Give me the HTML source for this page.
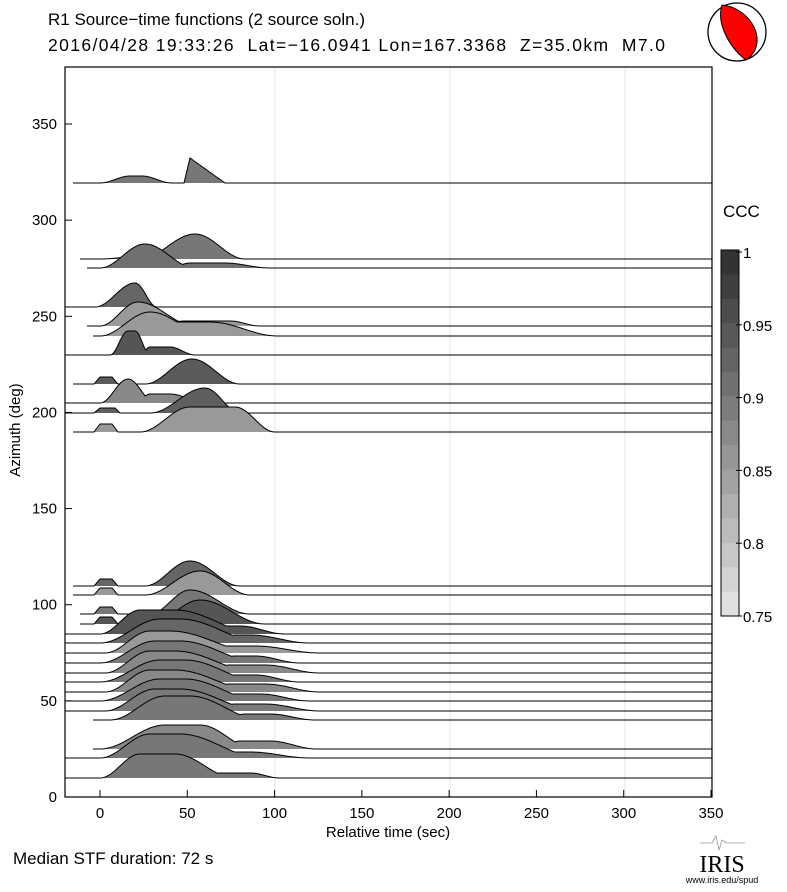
<!DOCTYPE html>
<html><head><meta charset="utf-8"><style>
body{margin:0;background:#fff;}
svg text{font-family:"Liberation Sans",sans-serif;}
</style></head><body>
<svg id="s" width="787" height="887" xmlns="http://www.w3.org/2000/svg">
<rect width="787" height="887" fill="#fff"/>
<text x="48" y="25" font-size="17">R1 Source−time functions (2 source soln.)</text>
<text x="48" y="51" font-size="17.5" textLength="617" lengthAdjust="spacing" style="white-space:pre">2016/04/28 19:33:26  Lat=−16.0941 Lon=167.3368  Z=35.0km  M7.0</text>
<circle cx="737" cy="32" r="29" fill="#fff" stroke="#000" stroke-width="1.3"/>
<path d="M722,5 C752,8 770,44 746,60 C730,48 716,24 722,5 Z" fill="#f00" stroke="#000" stroke-width="1"/>
<g stroke="#e4e4e4" stroke-width="1">
<line x1="275" y1="67" x2="275" y2="797"/><line x1="450" y1="67" x2="450" y2="797"/><line x1="625" y1="67" x2="625" y2="797"/>
</g>
<g id="tr"></g>
<rect x="65" y="67" width="647" height="730" fill="none" stroke="#000" stroke-width="1.2"/>
<g id="ax" font-size="15"></g>
<text x="388" y="837" font-size="15" text-anchor="middle">Relative time (sec)</text>
<text transform="translate(20,430) rotate(-90)" font-size="15" text-anchor="middle">Azimuth (deg)</text>
<text x="723" y="217" font-size="17">CCC</text>
<g id="cb"></g>
<text x="13" y="864" font-size="17">Median STF duration: 72 s</text>
<path d="M700,843 L712,843 L716,836 L719,850 L722,840 L726,843 L745,843" stroke="#999" fill="none" stroke-width="0.8"/>
<text x="722" y="872" font-size="24" text-anchor="middle" style="font-family:'Liberation Serif',serif">IRIS</text>
<text x="722" y="883" font-size="9" text-anchor="middle">www.iris.edu/spud</text>
</svg>
<script>
(function(){
const NS="http://www.w3.org/2000/svg";
function el(p,t,a,txt){const e=document.createElementNS(NS,t);for(const k in a)e.setAttribute(k,a[k]);if(txt!==undefined)e.textContent=txt;p.appendChild(e);return e;}
const cs_=u=>(1-Math.cos(Math.PI*u))/2;
const sp=(a,b,c,d,h)=>x=>x<=a||x>=d?0:(x<b?h*cs_((x-a)/(b-a)):(x<=c?h:h*cs_((d-x)/(d-c))));
const tri=(a,p,b,h)=>x=>x<=a||x>=b?0:(x<p?h*(x-a)/(p-a):h*(b-x)/(b-p));
const trap=(a,b,c,d,h)=>x=>x<=a||x>=d?0:(x<b?h*(x-a)/(b-a):(x<=c?h:h*(d-x)/(d-c)));
const T=[
[183,73,"#777",[sp(100,130,142,172,7),tri(184,190,225,25)]],
[259,80,"#777",[sp(100,150,150,160,4),sp(140,195,195,245,25)]],
[268,87,"#707070",[sp(100,145,145,195,24),sp(170,190,225,270,5)]],
[307,65,"#666",[sp(95,135,135,157,24)]],
[326,87,"#999",[sp(100,138,138,195,24),sp(150,185,230,260,5)]],
[336,93,"#999",[sp(100,150,150,210,24),sp(140,160,210,278,14)]],
[355,65,"#555",[sp(110,128,135,150,24),sp(140,150,170,195,8)]],
[384,73,"#5a5a5a",[trap(94,100,112,118,7),sp(145,192,192,240,25)]],
[403,65,"#888",[sp(100,128,128,155,24),sp(135,150,170,205,9)]],
[413,65,"#5f5f5f",[trap(94,100,115,120,5),sp(150,205,205,240,25)]],
[432,73,"#999",[trap(94,100,112,118,8),sp(140,190,235,275,25)]],
[586,73,"#666",[trap(94,100,112,118,7),sp(145,190,190,240,25)]],
[595,73,"#999",[trap(94,100,112,118,7),sp(145,200,200,250,24)]],
[614,80,"#777",[trap(94,100,112,118,7),sp(150,190,190,250,24)]],
[624,80,"#555",[trap(94,100,112,118,7),sp(150,200,200,265,24)]],
[634,65,"#555",[sp(100,140,175,260,24),sp(200,220,240,285,8)]],
[643,65,"#666",[sp(100,160,180,265,24),sp(220,235,250,310,8)]],
[653,65,"#999",[sp(105,150,170,260,22),sp(200,225,255,320,7)]],
[663,65,"#777",[sp(100,155,180,262,22),sp(210,235,255,300,7)]],
[673,65,"#888",[sp(105,150,175,260,22),sp(200,230,265,320,8)]],
[682,65,"#777",[sp(100,160,185,262,22),sp(210,235,255,300,7)]],
[692,65,"#888",[sp(105,150,175,260,22),sp(200,230,265,320,8)]],
[701,65,"#777",[sp(100,160,185,262,22),sp(210,235,260,310,7)]],
[711,65,"#7a7a7a",[sp(105,155,180,262,22),sp(205,235,265,320,7)]],
[720,93,"#777",[sp(110,165,190,262,24),sp(220,245,270,315,6)]],
[749,93,"#888",[sp(100,165,200,255,24),sp(220,240,270,317,8)]],
[758,65,"#777",[sp(100,150,180,262,24),sp(220,235,250,310,6)]],
[778,65,"#777",[sp(100,140,175,235,24),sp(200,220,250,280,5)]]
];
const tr=document.getElementById("tr");
for(const [y,x0,c,cs] of T){
 let pts="";
 for(let x=x0;x<=712;x+=1){let v=0;for(const f of cs)v=Math.max(v,f(x));pts+=" L"+x+","+(y-v).toFixed(1);}
 el(tr,"path",{d:"M"+x0+","+y+pts+" L712,"+y+" Z",fill:c,stroke:"none"});
 el(tr,"path",{d:"M"+x0+","+y+pts,fill:"none",stroke:"#000","stroke-width":"1"});
}
const ax=document.getElementById("ax");
for(let v=0;v<=350;v+=50){
 const y=797-v*96.14/50;
 el(ax,"line",{x1:65,y1:y,x2:72,y2:y,stroke:"#000"});
 el(ax,"text",{x:57,y:y+5,"text-anchor":"end"},v);
 const x=100+v*1.7457;
 el(ax,"line",{x1:x,y1:797,x2:x,y2:790,stroke:"#000"});
 el(ax,"text",{x:x,y:818,"text-anchor":"middle"},v);
}
const cb=document.getElementById("cb");
const n=15,t0=250,b0=616;
for(let i=0;i<n;i++){
 const t=i/(n-1);const v=Math.round(0x33+t*(0xe0-0x33));const h=v.toString(16);
 el(cb,"rect",{x:721,y:t0+(b0-t0)*i/n,width:18,height:(b0-t0)/n+0.5,fill:"#"+h+h+h});
}
el(cb,"rect",{x:721,y:t0,width:18,height:b0-t0,fill:"none",stroke:"#000"});
[[1,"1"],[0.95,"0.95"],[0.9,"0.9"],[0.85,"0.85"],[0.8,"0.8"],[0.75,"0.75"]].forEach(function(a){
 const y=t0+2+(1-a[0])/0.25*(b0-t0-2);
 el(cb,"line",{x1:736,y1:y,x2:742,y2:y,stroke:"#000"});
 el(cb,"text",{x:743,y:y+6,"font-size":"15"},a[1]);
});
})();
</script>
</body></html>
